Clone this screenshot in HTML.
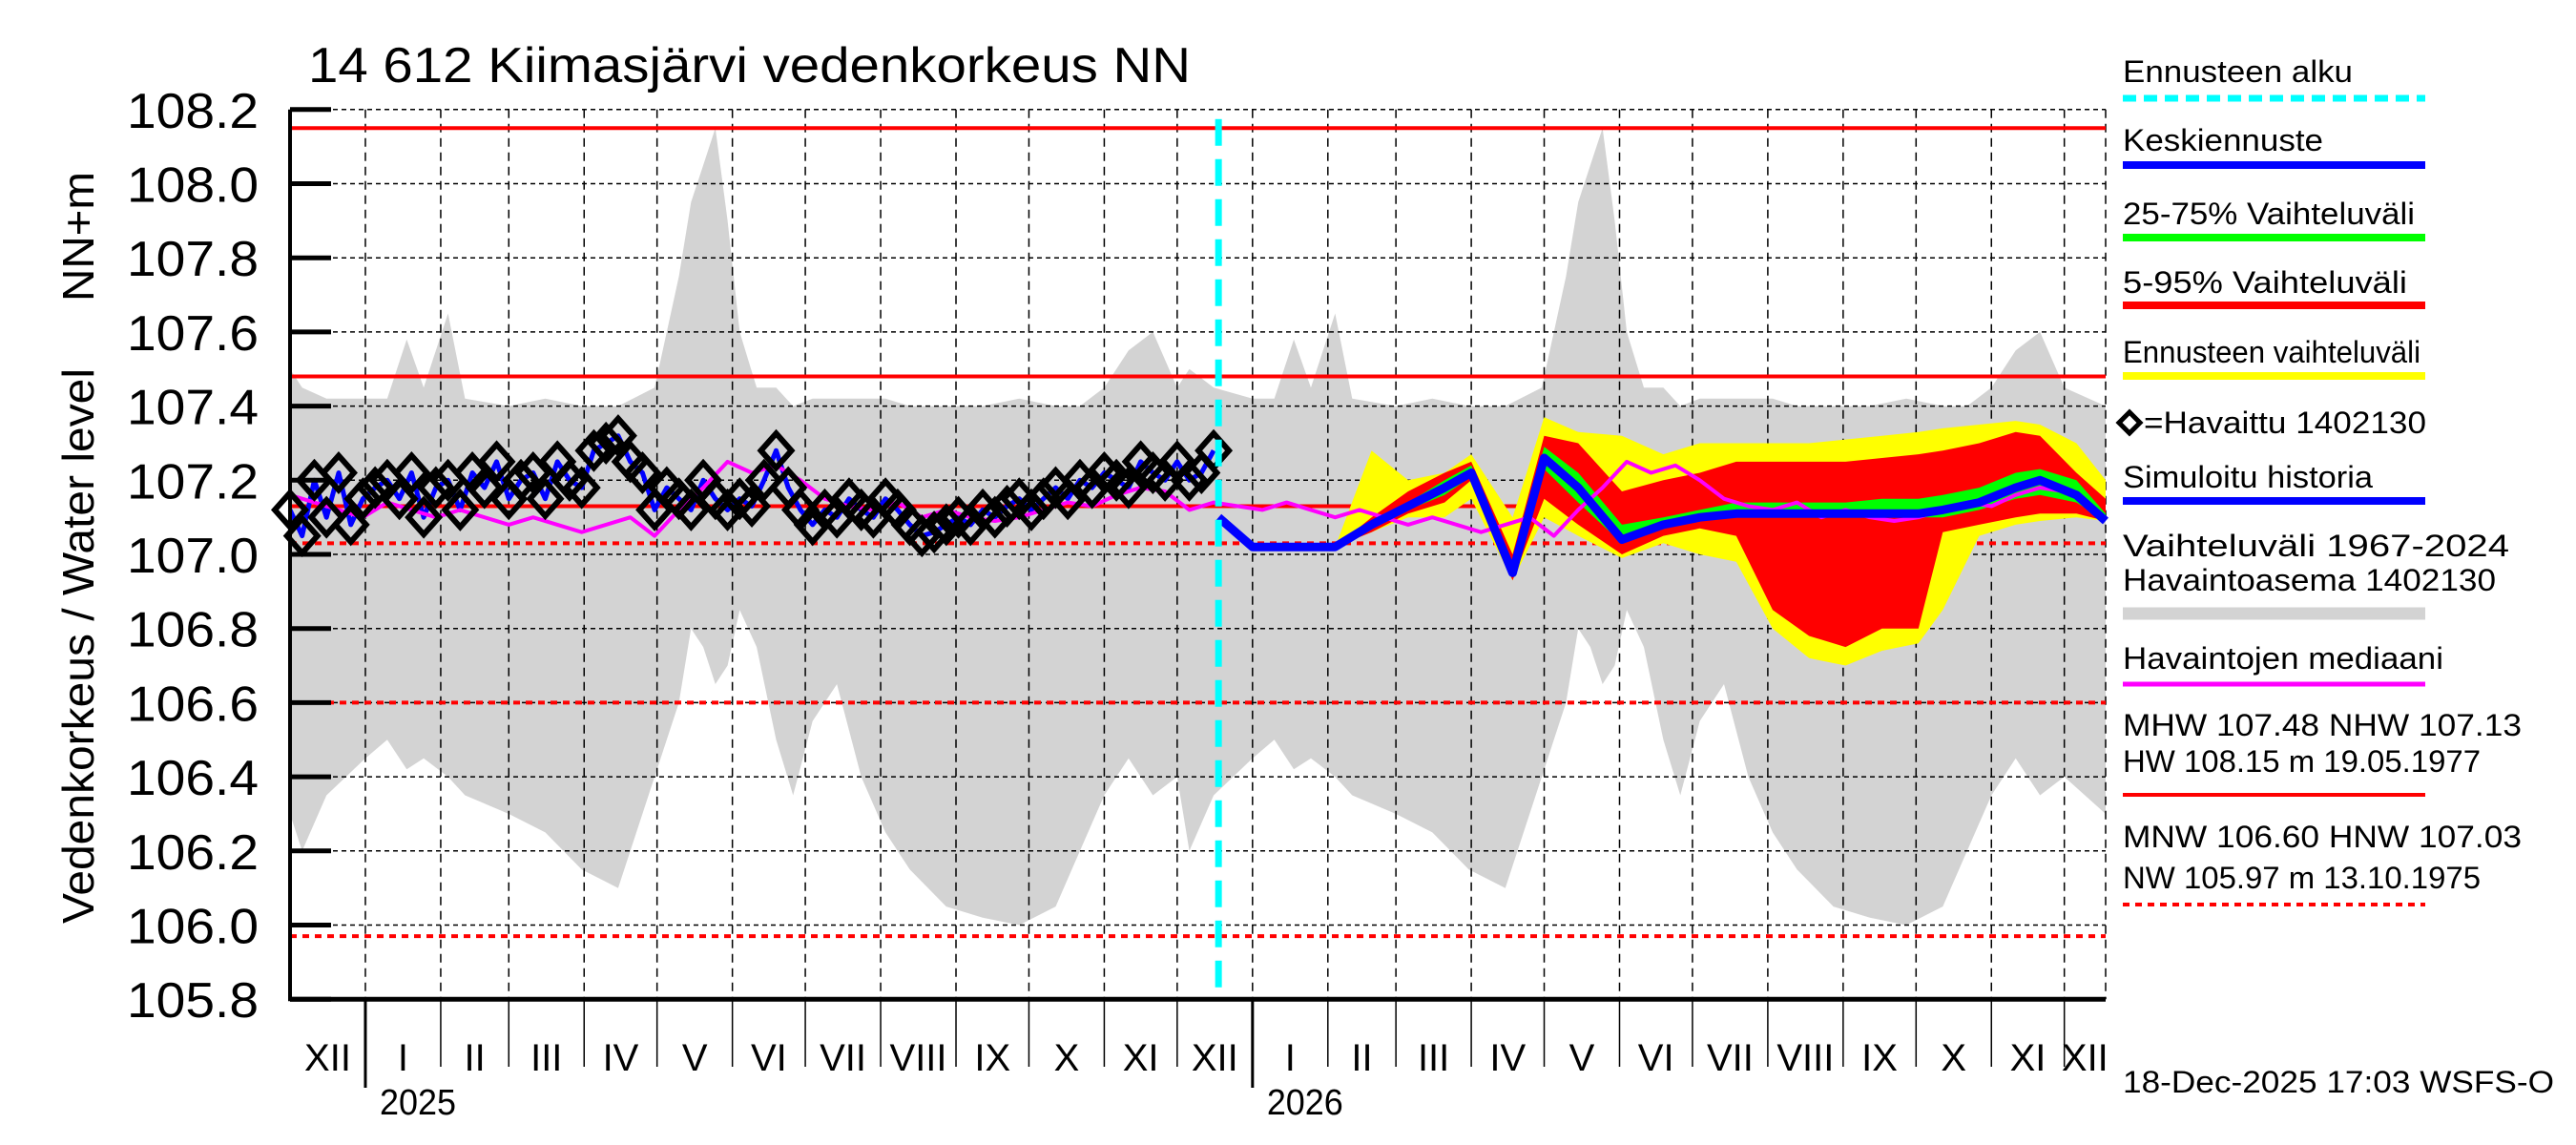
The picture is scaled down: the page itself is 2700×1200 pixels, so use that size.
<!DOCTYPE html>
<html><head><meta charset="utf-8"><style>
html,body{margin:0;padding:0;background:#fff}
svg{display:block}
text{font-family:"Liberation Sans",sans-serif;fill:#000}
</style></head><body>
<svg id="chart" width="2700" height="1200" viewBox="0 0 2700 1200" xmlns="http://www.w3.org/2000/svg">
<rect x="0" y="0" width="2700" height="1200" fill="#fff"/>
<g id="bands"></g>
<text x="323" y="86" font-size="52" textLength="925" lengthAdjust="spacingAndGlyphs">14 612 Kiimasjärvi vedenkorkeus NN</text>
<text transform="translate(98,248) rotate(-90)" text-anchor="middle" font-size="46" textLength="136" lengthAdjust="spacingAndGlyphs">NN+m</text>
<text transform="translate(98,677) rotate(-90)" text-anchor="middle" font-size="46" textLength="582" lengthAdjust="spacingAndGlyphs">Vedenkorkeus / Water level</text>
<g>
<text x="2225" y="86" font-size="32" textLength="241" lengthAdjust="spacingAndGlyphs">Ennusteen alku</text>
<line x1="2225" y1="103" x2="2542" y2="103" stroke="#00ffff" stroke-width="7" stroke-dasharray="14,8"/>
<text x="2225" y="158" font-size="32" textLength="210" lengthAdjust="spacingAndGlyphs">Keskiennuste</text>
<line x1="2225" y1="173" x2="2542" y2="173" stroke="#0000ff" stroke-width="8"/>
<text x="2225" y="235" font-size="32" textLength="306" lengthAdjust="spacingAndGlyphs">25-75% Vaihteluväli</text>
<line x1="2225" y1="249" x2="2542" y2="249" stroke="#00ff00" stroke-width="8"/>
<text x="2225" y="307" font-size="32" textLength="298" lengthAdjust="spacingAndGlyphs">5-95% Vaihteluväli</text>
<line x1="2225" y1="320" x2="2542" y2="320" stroke="#ff0000" stroke-width="8"/>
<text x="2225" y="380" font-size="32" textLength="312" lengthAdjust="spacingAndGlyphs">Ennusteen vaihteluväli</text>
<line x1="2225" y1="394" x2="2542" y2="394" stroke="#ffff00" stroke-width="8"/>
<path d="M2232,432 L2243,443 L2232,454 L2221,443 Z" fill="none" stroke="#000" stroke-width="5"/>
<text x="2247" y="454" font-size="32" textLength="296" lengthAdjust="spacingAndGlyphs">=Havaittu 1402130</text>
<text x="2225" y="511" font-size="32" textLength="262" lengthAdjust="spacingAndGlyphs">Simuloitu historia</text>
<line x1="2225" y1="525" x2="2542" y2="525" stroke="#0000ff" stroke-width="8"/>
<text x="2225" y="583" font-size="32" textLength="405" lengthAdjust="spacingAndGlyphs">Vaihteluväli 1967-2024</text>
<text x="2225" y="619" font-size="32" textLength="391" lengthAdjust="spacingAndGlyphs">Havaintoasema 1402130</text>
<line x1="2225" y1="643" x2="2542" y2="643" stroke="#d3d3d3" stroke-width="13"/>
<text x="2225" y="701" font-size="32" textLength="336" lengthAdjust="spacingAndGlyphs">Havaintojen mediaani</text>
<line x1="2225" y1="717" x2="2542" y2="717" stroke="#ff00ff" stroke-width="5"/>
<text x="2225" y="771" font-size="32" textLength="418" lengthAdjust="spacingAndGlyphs">MHW 107.48 NHW 107.13</text>
<text x="2225" y="809" font-size="32" textLength="375" lengthAdjust="spacingAndGlyphs">HW 108.15 m 19.05.1977</text>
<line x1="2225" y1="833" x2="2542" y2="833" stroke="#ff0000" stroke-width="4"/>
<text x="2225" y="888" font-size="32" textLength="418" lengthAdjust="spacingAndGlyphs">MNW 106.60 HNW 107.03</text>
<text x="2225" y="931" font-size="32" textLength="375" lengthAdjust="spacingAndGlyphs">NW 105.97 m 13.10.1975</text>
<line x1="2225" y1="948" x2="2542" y2="948" stroke="#ff0000" stroke-width="4" stroke-dasharray="7,6"/>
</g>
<text x="2225" y="1145" font-size="32" textLength="452" lengthAdjust="spacingAndGlyphs">18-Dec-2025 17:03 WSFS-O</text>
</svg>
<script>
// day index 0 = 2024-12-01
const gDays=[0,5,15,31,40,48,55,65,72,90,105,120,135,150,160,165,170,175,180,185,192,200,207,215,225,235,245,255,270,285,300,315,325,335,345,355,
365,370,380,396,405,413,420,430,437,455,470,485,500,515,525,530,535,540,545,550,557,565,572,580,590,600,610,620,635,650,665,680,690,700,710,720,730,747];
const gHi=[107.5,107.45,107.42,107.42,107.42,107.58,107.45,107.65,107.42,107.4,107.42,107.4,107.4,107.45,107.75,107.95,108.05,108.15,107.9,107.6,107.45,107.45,107.4,107.42,107.42,107.42,107.42,107.4,107.4,107.4,107.42,107.4,107.4,107.45,107.55,107.6,
107.45,107.5,107.45,107.42,107.42,107.58,107.45,107.65,107.42,107.4,107.42,107.4,107.4,107.45,107.75,107.95,108.05,108.15,107.9,107.6,107.45,107.45,107.4,107.42,107.42,107.42,107.42,107.4,107.4,107.4,107.42,107.4,107.4,107.45,107.55,107.6,107.45,107.4];
const gLo=[106.3,106.2,106.35,106.45,106.5,106.42,106.45,106.4,106.35,106.3,106.25,106.15,106.1,106.4,106.6,106.8,106.75,106.65,106.7,106.85,106.75,106.5,106.35,106.55,106.65,106.4,106.25,106.15,106.05,106.02,106.0,106.05,106.2,106.35,106.45,106.35,
106.4,106.2,106.35,106.45,106.5,106.42,106.45,106.4,106.35,106.3,106.25,106.15,106.1,106.4,106.6,106.8,106.75,106.65,106.7,106.85,106.75,106.5,106.35,106.55,106.65,106.4,106.25,106.15,106.05,106.02,106.0,106.05,106.2,106.35,106.45,106.35,106.4,106.3];
const obsStart=0, obsStep=5;
const obs=[107.12,107.05,107.2,107.1,107.22,107.08,107.15,
107.18,107.2,107.15,107.22,107.1,107.18,
107.2,107.12,107.22,107.18,107.25,107.15,
107.2,107.22,107.15,107.25,107.2,107.18,
107.28,107.3,107.32,107.25,107.22,107.12,
107.18,107.15,107.12,107.2,107.15,107.12,
107.15,107.13,107.2,107.28,107.18,107.12,
107.08,107.12,107.1,107.15,107.12,107.1,
107.15,107.12,107.08,107.05,107.06,107.08,
107.1,107.08,107.12,107.1,107.13,107.15,
107.12,107.15,107.18,107.15,107.2,107.18,
107.22,107.2,107.18,107.25,107.22,107.2,
107.25,107.2,107.22,107.28];
const medStep=10;
const median=[107.16,107.14,107.12,107.1,107.14,107.12,107.1,107.12,107.1,107.08,107.1,107.08,107.06,107.08,107.1,107.05,107.12,107.18,107.25,107.22,107.24,107.2,107.15,107.13,107.12,107.14,107.1,107.12,107.1,107.09,107.1,107.12,107.14,107.13,107.16,107.18,107.17,
107.12,107.14,107.13,107.12,107.14,107.12,107.1,107.12,107.1,107.08,107.1,107.08,107.06,107.08,107.1,107.05,107.12,107.18,107.25,107.22,107.24,107.2,107.15,107.13,107.12,107.14,107.1,107.12,107.1,107.09,107.1,107.12,107.14,107.13,107.16,107.18,107.17,107.14];
const fDays=[382,396,430,445,460,475,486,503,516,530,548,565,580,595,610,625,640,655,670,680,695,710,720,735,747];
const fMean=[107.10,107.02,107.02,107.08,107.13,107.18,107.22,106.95,107.26,107.18,107.04,107.08,107.10,107.11,107.11,107.11,107.11,107.11,107.11,107.12,107.14,107.18,107.20,107.16,107.09];
const f25=[107.10,107.02,107.02,107.08,107.12,107.16,107.21,106.94,107.23,107.14,107.03,107.07,107.09,107.10,107.10,107.10,107.10,107.10,107.10,107.10,107.12,107.15,107.16,107.14,107.09];
const f75=[107.10,107.02,107.02,107.08,107.14,107.20,107.24,106.97,107.29,107.22,107.08,107.10,107.12,107.14,107.14,107.14,107.14,107.15,107.15,107.16,107.18,107.22,107.23,107.20,107.11];
const f5=[107.10,107.02,107.02,107.06,107.11,107.14,107.20,106.93,107.15,107.08,107.00,107.05,107.07,107.05,106.85,106.78,106.75,106.80,106.80,107.06,107.08,107.10,107.11,107.11,107.09];
const f95=[107.10,107.02,107.02,107.10,107.17,107.22,107.25,107.00,107.32,107.30,107.17,107.20,107.22,107.25,107.25,107.25,107.25,107.26,107.27,107.28,107.30,107.33,107.32,107.22,107.15];
const fMin=[107.10,107.02,107.02,107.06,107.10,107.10,107.15,106.93,107.10,107.05,106.99,107.03,107.00,106.98,106.80,106.72,106.70,106.74,106.76,106.85,107.05,107.08,107.09,107.10,107.09];
const fMax=[107.10,107.02,107.02,107.28,107.20,107.22,107.27,107.10,107.37,107.33,107.32,107.27,107.30,107.30,107.30,107.30,107.31,107.32,107.33,107.34,107.35,107.36,107.35,107.30,107.20];
const yTicks=[105.8,106.0,106.2,106.4,106.6,106.8,107.0,107.2,107.4,107.6,107.8,108.0,108.2];
const monthStarts=[0,31,62,90,121,151,182,212,243,274,304,335,365,396,427,455,486,516,547,577,608,639,669,700,730,747];
const monthLabels=["XII","I","II","III","IV","V","VI","VII","VIII","IX","X","XI","XII","I","II","III","IV","V","VI","VII","VIII","IX","X","XI","XII"];
const yearLabels=["2025","2026"];
const yearDays=[31,396];
const forecastStartDay=382;
const refSolid=[108.15,107.48,107.13];
const refDotted=[107.03,106.60,105.97];

const X0=304,X1=2207,DPX=(X1-X0)/747;
const Y0=114.8,K=388.5;
function X(d){return X0+d*DPX;}
function Y(v){return Y0+(108.2-v)*K;}
const NS="http://www.w3.org/2000/svg";
const g=document.getElementById('bands');
function el(tag,attrs){const e=document.createElementNS(NS,tag);for(const k in attrs)e.setAttribute(k,attrs[k]);g.appendChild(e);return e;}
function area(days,hi,lo,fill,name){
  let d="M"+days.map((t,i)=>X(t).toFixed(1)+","+Y(hi[i]).toFixed(1)).join(" L");
  for(let i=days.length-1;i>=0;i--)d+=" L"+X(days[i]).toFixed(1)+","+Y(lo[i]).toFixed(1);
  const p=el('path',{d:d+"Z",fill:fill});
  
  
}
function line(days,vals,stroke,w,name){
  const p=el('polyline',{points:days.map((t,i)=>X(t).toFixed(1)+","+Y(vals[i]).toFixed(1)).join(" "),fill:"none",stroke:stroke,"stroke-width":w,"stroke-linejoin":"round"});
  
  
}
area(gDays,gHi,gLo,"#d3d3d3","historical-range-band");
yTicks.forEach(v=>{const l=el('line',{x1:X0,x2:X1,y1:Y(v),y2:Y(v),stroke:"#000","stroke-width":1.5,"stroke-dasharray":"5,4"});

});
monthStarts.forEach((d,i)=>{if(i>0&&i<monthStarts.length-1){const l=el('line',{x1:X(d),x2:X(d),y1:Y0,y2:Y(105.8),stroke:"#000","stroke-width":1.5,"stroke-dasharray":"9,6"});

}});
el('line',{x1:X1,x2:X1,y1:Y0,y2:Y(105.8),stroke:"#000","stroke-width":1.5,"stroke-dasharray":"9,6"});
refSolid.forEach(v=>{const l=el('line',{x1:X0,x2:X1,y1:Y(v),y2:Y(v),stroke:"#ff0000","stroke-width":4});

});
refDotted.forEach(v=>{const l=el('line',{x1:X0,x2:X1,y1:Y(v),y2:Y(v),stroke:"#ff0000","stroke-width":4,"stroke-dasharray":"7,6"});

});
area(fDays,fMax,fMin,"#ffff00","forecast-range-band");
area(fDays,f95,f5,"#ff0000","forecast-5-95-band");
area(fDays,f75,f25,"#00ff00","forecast-25-75-band");
const obsDays=obs.map((v,i)=>obsStart+i*obsStep);
line(obsDays,obs,"#0000ff",5,"simulated-history-line");
const medDays=median.map((v,i)=>i*medStep);
line(medDays,median,"#ff00ff",4,"median-line");
line(fDays,fMean,"#0000ff",9,"mean-forecast-line");
obs.forEach((v,i)=>{const x=X(obsDays[i]),y=Y(v);
const p=el('path',{d:`M${x},${y-18} L${x+16},${y} L${x},${y+18} L${x-16},${y} Z`,fill:"none",stroke:"#000","stroke-width":6});

});
const fs=el('line',{x1:X(forecastStartDay),x2:X(forecastStartDay),y1:Y0+10,y2:Y(105.8),stroke:"#00ffff","stroke-width":7,"stroke-dasharray":"28,14"});


el('line',{x1:X0,x2:X0,y1:Y0,y2:Y(105.8)+2,stroke:"#000","stroke-width":4});
el('line',{x1:X0,x2:X1,y1:Y(105.8),y2:Y(105.8),stroke:"#000","stroke-width":5});
yTicks.forEach(v=>{el('line',{x1:X0,x2:X0+43,y1:Y(v),y2:Y(v),stroke:"#000","stroke-width":5});
const t=el('text',{x:271,y:Y(v)+19,"text-anchor":"end","font-size":52,textLength:138,lengthAdjust:"spacingAndGlyphs"});
t.textContent=v.toFixed(1);

});
monthStarts.forEach((d,i)=>{if(i>0&&i<monthStarts.length-1){const yr=yearDays.indexOf(d)>=0;
el('line',{x1:X(d),x2:X(d),y1:Y(105.8),y2:yr?1140:1118,stroke:"#000","stroke-width":yr?3:1.5});}});
monthLabels.forEach((m,i)=>{const t=el('text',{x:(X(monthStarts[i])+X(monthStarts[i+1]))/2,y:1122,"text-anchor":"middle","font-size":40});
t.textContent=m;

});
yearLabels.forEach((y,i)=>{const t=el('text',{x:X(yearDays[i])+15,y:1168,"font-size":38,textLength:80,lengthAdjust:"spacingAndGlyphs"});
t.textContent=y;

});
</script>
</body></html>
